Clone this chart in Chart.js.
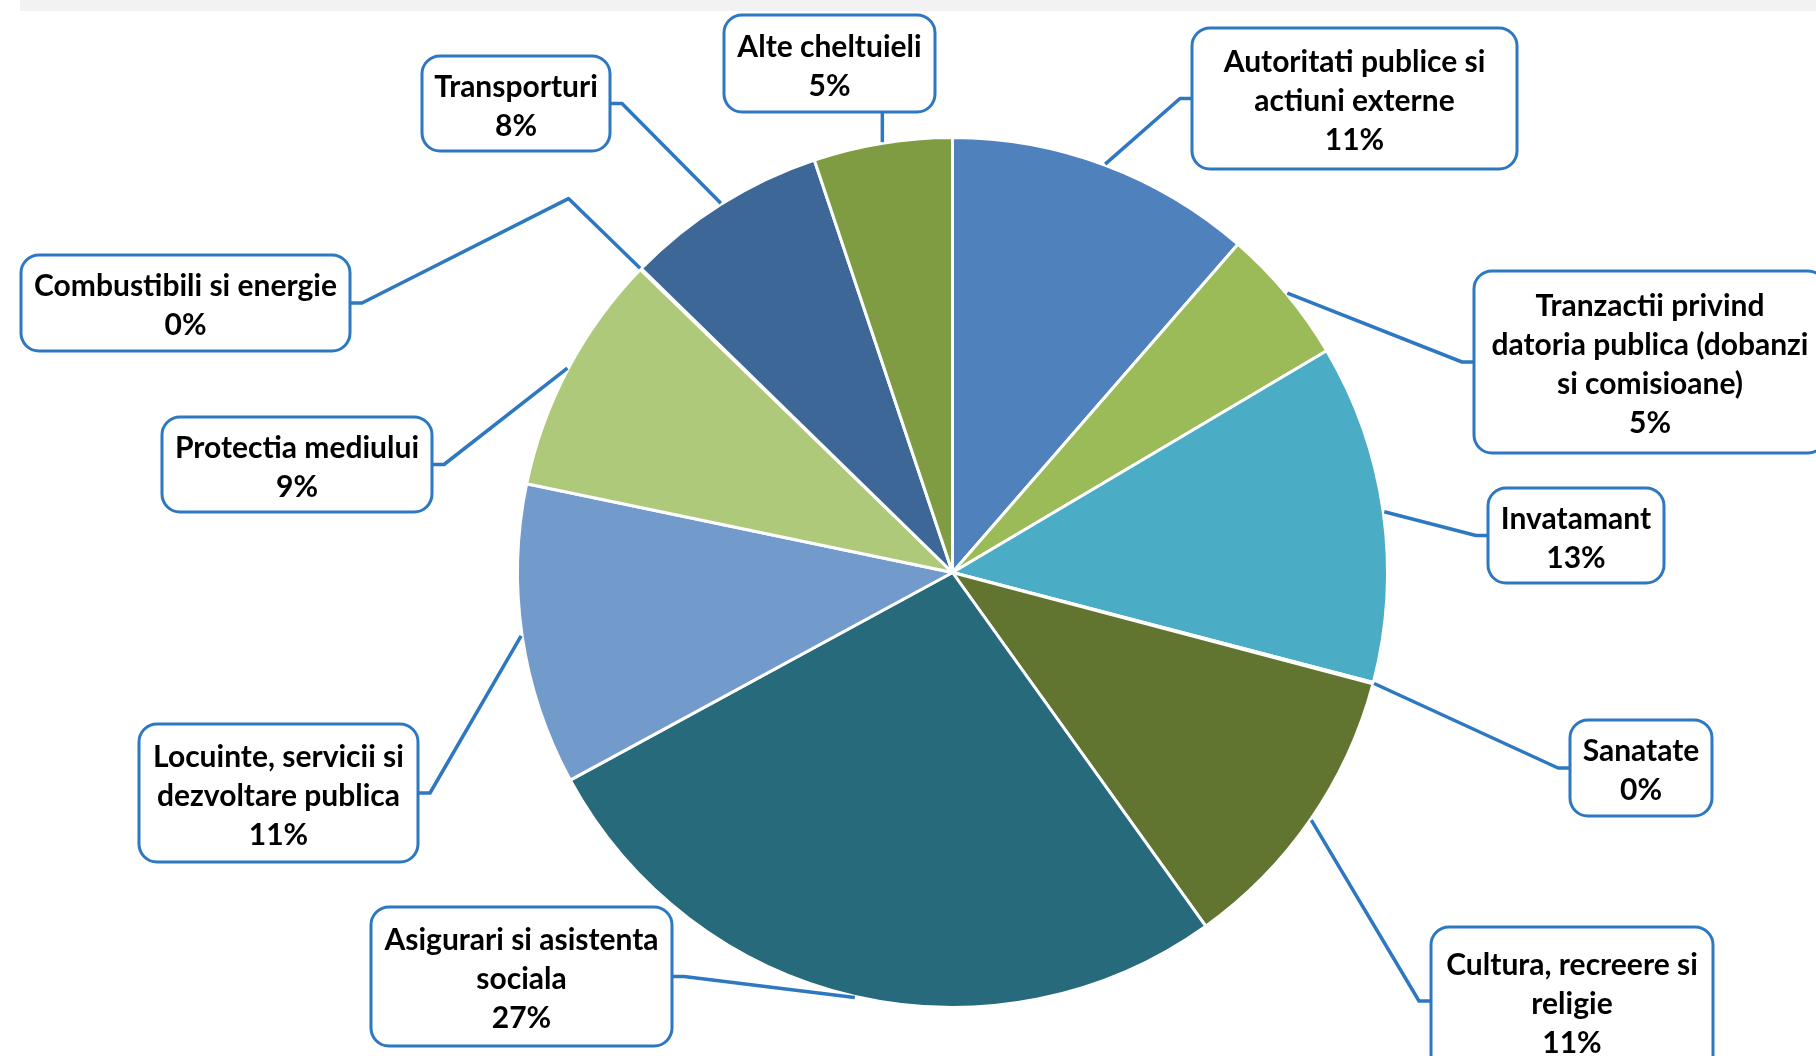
<!DOCTYPE html>
<html>
<head>
<meta charset="utf-8">
<script src="https://cdn.jsdelivr.net/npm/chart.js@4.4.1/dist/chart.umd.min.js"></script>
<style>
  html, body { margin: 0; padding: 0; background: #fff; }
  #wrap { position: relative; width: 1816px; height: 1056px; overflow: hidden; }
  #topBar { position: absolute; left: 20px; top: 0; right: 0; height: 11px; background: #f2f2f2; }
  canvas { position: absolute; left: 0; top: 0; }
</style>
</head>
<body>
<div id="wrap">
  <div id="topBar"></div>
  <canvas id="budgetPie" width="1816" height="1056"></canvas>
</div>
<script>
// ---------- Data ----------
const categories = [
  'Autoritati publice si\nactiuni externe',
  'Tranzactii privind\ndatoria publica (dobanzi\nsi comisioane)',
  'Invatamant',
  'Sanatate',
  'Cultura, recreere si\nreligie',
  'Asigurari si asistenta\nsociala',
  'Locuinte, servicii si\ndezvoltare publica',
  'Protectia mediului',
  'Combustibili si energie',
  'Transporturi',
  'Alte cheltuieli'
];
const shares = [11.4, 5.1, 12.6, 0.05, 11.0, 27.0, 11.2, 9.0, 0.05, 7.55, 5.15];
const sliceColors = [
  '#4f81bd', '#9bbb59', '#4bacc6', '#f79646', '#617530', '#276a7b',
  '#729aca', '#afc97b', '#8064a2', '#3c6796', '#7f9c42'
];

// ---------- Callout layout (canvas px) ----------
const callouts = [
  { x: 1192, y: 28,  w: 325, h: 141, side: 'left' },
  { x: 1474, y: 271, w: 352, h: 182, side: 'left' },
  { x: 1488, y: 488, w: 176, h: 95,  side: 'left' },
  { x: 1570, y: 720, w: 142, h: 96,  side: 'left' },
  { x: 1431, y: 927, w: 282, h: 148, side: 'left' },
  { x: 371,  y: 907, w: 301, h: 139, side: 'right' },
  { x: 139,  y: 724, w: 279, h: 138, side: 'right' },
  { x: 162,  y: 417, w: 270, h: 95,  side: 'right' },
  { x: 21,   y: 255, w: 329, h: 96,  side: 'right', bend: 101 },
  { x: 422,  y: 56,  w: 188, h: 95,  side: 'right' },
  { x: 724,  y: 15,  w: 211, h: 97,  side: 'bottom' }
];
const calloutBlue = '#2e78c2';
const lineHeight = 39;

function roundedRect(ctx, x, y, w, h, r) {
  ctx.beginPath();
  ctx.moveTo(x + r, y);
  ctx.arcTo(x + w, y, x + w, y + h, r);
  ctx.arcTo(x + w, y + h, x, y + h, r);
  ctx.arcTo(x, y + h, x, y, r);
  ctx.arcTo(x, y, x + w, y, r);
  ctx.closePath();
}

const calloutPlugin = {
  id: 'callouts',
  afterDatasetsDraw(chart) {
    const ctx = chart.ctx;
    const arcs = chart.getDatasetMeta(0).data;
    const total = shares.reduce((a, b) => a + b, 0);
    ctx.save();

    // leader lines
    ctx.strokeStyle = calloutBlue;
    ctx.lineWidth = 3.5;
    ctx.lineJoin = 'round';
    arcs.forEach((arc, i) => {
      const box = callouts[i];
      const { x, y, startAngle, endAngle, outerRadius } =
        arc.getProps(['x', 'y', 'startAngle', 'endAngle', 'outerRadius'], true);
      const mid = (startAngle + endAngle) / 2;
      const pts = [[x + Math.cos(mid) * (outerRadius + 1), y + Math.sin(mid) * (outerRadius + 1)]];
      const midY = box.y + box.h / 2;
      if (box.bend) {
        pts.push([x + Math.cos(mid) * (outerRadius + box.bend), y + Math.sin(mid) * (outerRadius + box.bend)]);
      }
      if (box.side === 'left') {
        pts.push([box.x - 12, midY], [box.x, midY]);
      } else if (box.side === 'right') {
        pts.push([box.x + box.w + 12, midY], [box.x + box.w, midY]);
      } else {
        pts.push([pts[0][0], box.y + box.h]);
      }
      ctx.beginPath();
      ctx.moveTo(pts[0][0], pts[0][1]);
      pts.slice(1).forEach(p => ctx.lineTo(p[0], p[1]));
      ctx.stroke();
    });

    // boxes + text
    ctx.textAlign = 'center';
    ctx.textBaseline = 'middle';
    ctx.font = 'bold 30px Lato, "Open Sans", sans-serif';
    callouts.forEach((box, i) => {
      roundedRect(ctx, box.x, box.y, box.w, box.h, 18);
      ctx.fillStyle = '#fff';
      ctx.fill();
      ctx.lineWidth = 3;
      ctx.strokeStyle = calloutBlue;
      ctx.stroke();

      const lines = categories[i].split('\n');
      lines.push(Math.round(shares[i] / total * 100) + '%');
      const cx = box.x + box.w / 2;
      const startY = box.y + box.h / 2 + 3 - (lines.length - 1) * lineHeight / 2;
      ctx.fillStyle = '#000';
      lines.forEach((t, k) => ctx.fillText(t, cx, startY + k * lineHeight));
    });
    ctx.restore();
  }
};

new Chart(document.getElementById('budgetPie'), {
  type: 'pie',
  data: {
    labels: categories,
    datasets: [{
      data: shares,
      backgroundColor: sliceColors,
      borderColor: '#fff',
      borderWidth: 3,
      hoverBorderWidth: 3,
      hoverOffset: 0
    }]
  },
  options: {
    responsive: false,
    animation: false,
    events: [],
    layout: { padding: { left: 516, right: 427, top: 136, bottom: 47 } },
    plugins: { legend: { display: false }, tooltip: { enabled: false } }
  },
  plugins: [calloutPlugin]
});
</script>
</body>
</html>
